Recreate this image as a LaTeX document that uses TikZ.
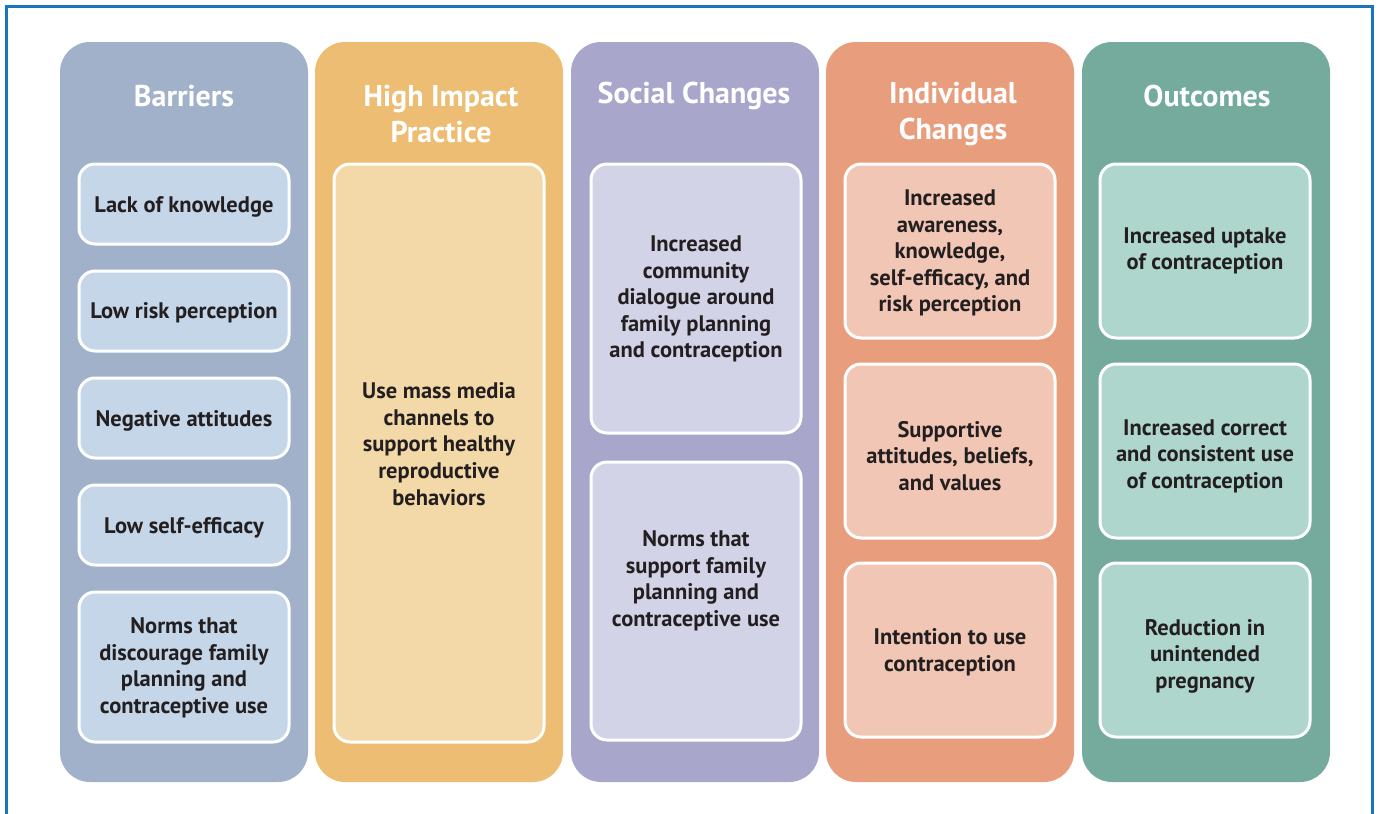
\documentclass[tikz,border=0pt]{standalone}
\usepackage{fontspec}
\setmainfont{PT Sans}
\definecolor{frameblue}{HTML}{1A75BC}
\definecolor{txt}{HTML}{231F20}
\definecolor{colA}{HTML}{A0B1C9}\definecolor{inA}{HTML}{C5D6E8}
\definecolor{colB}{HTML}{ECBD72}\definecolor{inB}{HTML}{F4D9A8}
\definecolor{colC}{HTML}{A9A6CC}\definecolor{inC}{HTML}{D3D3E8}
\definecolor{colD}{HTML}{E89E7C}\definecolor{inD}{HTML}{F1C6B4}
\definecolor{colE}{HTML}{74AB9D}\definecolor{inE}{HTML}{AFD6CC}
\tikzset{
  column/.style={rounded corners=30pt},
  inner/.style={draw=white, line width=3pt, rounded corners=16pt},
  title/.style={text=white, font=\bfseries\fontsize{30}{36}\selectfont, align=center},
  label/.style={text=txt, font=\bfseries\fontsize{22.5}{26.6}\selectfont, align=center, yshift=-2pt},
}
\begin{document}
\begin{tikzpicture}[x=1pt,y=-1pt]
\useasboundingbox (0,0) rectangle (1379,814);
\draw[frameblue, line width=3pt] (6,820) -- (6,6) -- (1372,6) -- (1372,820);
% columns
\fill[colA, column] (60,42) rectangle (308,782);
\fill[colB, column] (315,42) rectangle (563,782);
\fill[colC, column] (571,42) rectangle (819,782);
\fill[colD, column] (826,42) rectangle (1074,782);
\fill[colE, column] (1082,42) rectangle (1330,782);
% titles
\node[title] (tA) at (184,96) {Barriers};
\node[title] (tB) at (441,114) {High Impact\\Practice};
\node[title] (tC) at (694,96) {Social Changes};
\node[title] (tD) at (953,114) {Individual\\Changes};
\node[title] (tE) at (1207,96) {Outcomes};
% barriers
\filldraw[inA, inner, draw=white] (79,164) rectangle (289,244);
\filldraw[inA, inner, draw=white] (79,271) rectangle (289,351);
\filldraw[inA, inner, draw=white] (79,378) rectangle (289,458);
\filldraw[inA, inner, draw=white] (79,485) rectangle (289,565);
\filldraw[inA, inner, draw=white] (79,592) rectangle (289,742);
\node[label] (a1) at (184,205) {Lack of knowledge};
\node[label] (a2) at (184,311) {Low risk perception};
\node[label] (a3) at (184,419) {Negative attitudes};
\node[label] (a4) at (184,526) {Low self-efficacy};
\node[label] (a5) at (184,666) {Norms that\\discourage family\\planning and\\contraceptive use};
% HIP
\filldraw[inB, inner, draw=white] (334,164) rectangle (544,742);
\node[label] (b1) at (439,442) {Use mass media\\channels to\\support healthy\\reproductive\\behaviors};
% social
\filldraw[inC, inner, draw=white] (591,164) rectangle (801,433);
\filldraw[inC, inner, draw=white] (591,462) rectangle (801,740);
\node[label] (c1) at (696,297) {Increased\\community\\dialogue around\\family planning\\and contraception};
\node[label] (c2) at (696,579) {Norms that\\support family\\planning and\\contraceptive use};
% individual
\filldraw[inD, inner, draw=white] (845,164) rectangle (1055,338);
\filldraw[inD, inner, draw=white] (845,364) rectangle (1055,538);
\filldraw[inD, inner, draw=white] (845,563) rectangle (1055,737);
\node[label] (d1) at (950,251) {Increased\\awareness,\\knowledge,\\self-efficacy, and\\risk perception};
\node[label] (d2) at (950,454) {Supportive\\attitudes, beliefs,\\and values};
\node[label] (d3) at (950,650) {Intention to use\\contraception};
% outcomes
\filldraw[inE, inner, draw=white] (1100,164) rectangle (1310,338);
\filldraw[inE, inner, draw=white] (1100,364) rectangle (1310,538);
\filldraw[inE, inner, draw=white] (1100,563) rectangle (1310,737);
\node[label] (e1) at (1205,249) {Increased uptake\\of contraception};
\node[label] (e2) at (1205,454) {Increased correct\\and consistent use\\of contraception};
\node[label] (e3) at (1205,654) {Reduction in\\unintended\\pregnancy};
\end{tikzpicture}
\end{document}
